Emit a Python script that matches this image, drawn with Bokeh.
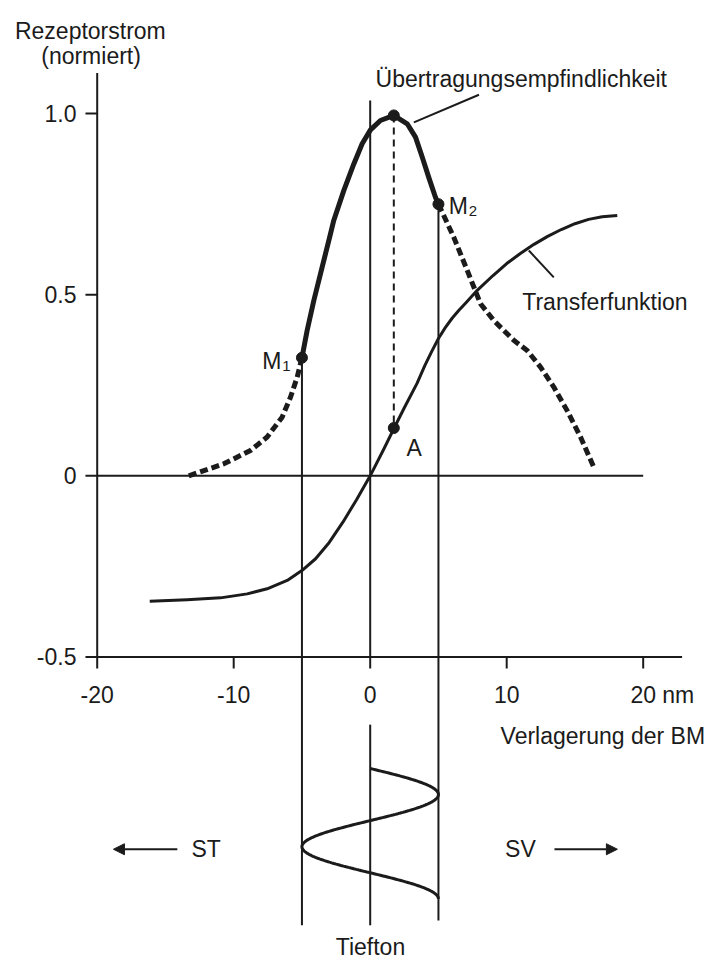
import numpy as np
from bokeh.plotting import figure
from bokeh.models import Range1d, Arrow, NormalHead
from bokeh.core.properties import value
from bokeh.embed import file_html
from bokeh.resources import INLINE

# ---------------- data ----------------
# sensitivity curve ("Übertragungsempfindlichkeit"), solid part between M1 and M2
sens_solid_x = [-5.0, -4.62, -4.13, -3.52, -2.91, -2.67, -1.93, -1.20, -0.59, 0.02, 0.75, 1.73,
                2.71, 3.32, 3.81, 4.29, 4.78, 5.0]
sens_solid_y = [0.326, 0.401, 0.484, 0.576, 0.668, 0.705, 0.788, 0.861, 0.917, 0.955, 0.981, 0.995,
                0.972, 0.935, 0.880, 0.824, 0.769, 0.75]
# dashed continuation, left of M1
sens_left_x = [-13.29, -10.73, -8.77, -7.55, -6.45, -5.84, -5.35, -5.0]
sens_left_y = [0.0, 0.033, 0.070, 0.107, 0.162, 0.217, 0.272, 0.326]
# dashed continuation, right of M2
sens_right_x = [5.0, 6.12, 7.11, 8.08, 9.05, 10.52, 11.50, 12.48, 13.45, 14.43, 15.41, 16.38]
sens_right_y = [0.75, 0.659, 0.567, 0.475, 0.429, 0.374, 0.346, 0.300, 0.245, 0.180, 0.107, 0.024]
# transfer function
trans_x = [-16.15, -13.41, -10.97, -9.01, -7.55, -6.08, -4.98, -4.0, -3.0, -2.0, -1.0, 0.0,
           1.0, 1.73, 2.5, 3.44, 4.0, 4.5, 5.0, 5.5, 6.0, 6.5, 7.0, 7.84, 9.0, 10.0, 11.0,
           12.0, 13.0, 14.0, 15.0, 16.0, 17.0, 18.10]
trans_y = [-0.346, -0.342, -0.337, -0.326, -0.312, -0.289, -0.261, -0.229, -0.184, -0.128, -0.066, 0.0,
           0.074, 0.130, 0.188, 0.256, 0.304, 0.343, 0.379, 0.409, 0.435, 0.457, 0.477, 0.512, 0.553,
           0.586, 0.614, 0.639, 0.661, 0.680, 0.696, 0.708, 0.715, 0.719]
# marked points
pt_names = ["M1", "M2", "peak", "A"]
pt_x = [-5.0, 5.0, 1.73, 1.73]
pt_y = [0.326, 0.75, 0.995, 0.132]
# axes ticks
x_ticks = [-20, -10, 0, 10, 20]
x_tick_labels = ["-20", "-10", "0", "10", "20"]
y_ticks = [-0.5, 0, 0.5, 1.0]
y_tick_labels = ["-0.5", "0", "0.5", "1.0"]
# low tone stimulus (amplitude in nm, vertical extent in chart units, quarter periods)
tone_amp = 5.0
tone_top = -0.808
tone_bottom = -1.168
tone_quarters = 5

# ---------------- figure ----------------
W, H = 715, 965
p = figure(width=W, height=H, output_backend="svg", toolbar_location=None,
           x_range=Range1d(-27.084, 25.297), y_range=Range1d(-1.3520, 1.3123),
           x_axis_location=None, y_axis_location=None, min_border=0)
p.grid.visible = False
p.outline_line_color = None
p.background_fill_color = "white"
p.border_fill_color = "white"

INK = "#1b1b1b"
FONT = value("Liberation Sans")

def seg(x0, y0, x1, y1, w=2, dash="solid"):
    p.segment(x0=x0, y0=y0, x1=x1, y1=y1, line_color=INK, line_width=w, line_dash=dash)

# axes
seg([-20], [-0.5], [-20], [1.112])
seg([-20], [-0.5], [22.85], [-0.5])
seg([-20], [0], [20], [0])
# y ticks
p.segment(x0=[-20.86] * len(y_ticks), y0=y_ticks, x1=[-20] * len(y_ticks), y1=y_ticks,
          line_color=INK, line_width=2)
# x ticks
p.segment(x0=x_ticks, y0=[-0.5] * len(x_ticks), x1=x_ticks, y1=[-0.532] * len(x_ticks),
          line_color=INK, line_width=2)
p.text(x=[-21.52] * len(y_ticks), y=y_ticks, text=y_tick_labels, text_font=FONT,
       text_font_size="23px", text_align="right", text_baseline="middle", text_color=INK)
p.text(x=x_ticks, y=[-0.604] * len(x_ticks), text=x_tick_labels, text_font=FONT,
       text_font_size="23px", text_align="center", text_baseline="middle", text_color=INK)

# vertical guide lines
seg([0], [1.036], [0], [-0.5])
seg([0], [-0.687], [0], [-1.241])
seg([-5], [pt_y[0]], [-5], [-1.241])
seg([5], [pt_y[1]], [5], [-1.228])
# dashed drop from peak to A
seg([pt_x[2]], [pt_y[2]], [pt_x[3]], [pt_y[3]], w=2, dash="7 5")

# curves
p.line(trans_x, trans_y, line_color=INK, line_width=3, line_join="round")
p.line(sens_left_x, sens_left_y, line_color=INK, line_width=5, line_dash="8 4")
p.line(sens_right_x, sens_right_y, line_color=INK, line_width=5, line_dash="8 4")
p.line(sens_solid_x, sens_solid_y, line_color=INK, line_width=5, line_join="round")

# points
p.scatter(pt_x, pt_y, size=11, color=INK)

# leader lines
seg([3.20], [0.976], [7.97], [1.052])
seg([11.62], [0.622], [13.45], [0.548])

# tone stimulus (sine)
theta = np.linspace(0, tone_quarters * np.pi / 2, 200)
tone_x = tone_amp * np.sin(theta)
tone_y = tone_top + (tone_bottom - tone_top) * theta / theta[-1]
p.line(tone_x, tone_y, line_color=INK, line_width=3)

# arrows
p.add_layout(Arrow(end=NormalHead(size=11, fill_color=INK, line_color=INK),
                   x_start=-14.13, y_start=-1.031, x_end=-18.81, y_end=-1.031,
                   line_color=INK, line_width=2))
p.add_layout(Arrow(end=NormalHead(size=11, fill_color=INK, line_color=INK),
                   x_start=13.50, y_start=-1.031, x_end=18.11, y_end=-1.031,
                   line_color=INK, line_width=2))

# texts
def txt(x, y, s, size="23px", align="left", baseline="alphabetic"):
    p.text(x=[x], y=[y], text=[s], text_font=FONT, text_font_size=size,
           text_align=align, text_baseline=baseline, text_color=INK)

txt(-20.50, 1.2294, "Rezeptorstrom", align="center")
txt(-20.45, 1.1604, "(normiert)", align="center")
txt(0.39, 1.096, "Übertragungsempfindlichkeit")
txt(11.14, 0.479, "Transferfunktion")
txt(21.39, -0.604, "nm", baseline="middle")
txt(9.55, -0.717, "Verlagerung der BM")
txt(-7.91, 0.318, "M")
txt(-6.45, 0.302, "1", size="15px")
txt(5.76, 0.746, "M")
txt(7.22, 0.730, "2", size="15px")
txt(2.66, 0.078, "A")
txt(-13.09, -1.031, "ST", baseline="middle")
txt(9.88, -1.031, "SV", baseline="middle")
txt(0.02, -1.300, "Tiefton", align="center")

open("out.html", "w").write(file_html(p, INLINE))
